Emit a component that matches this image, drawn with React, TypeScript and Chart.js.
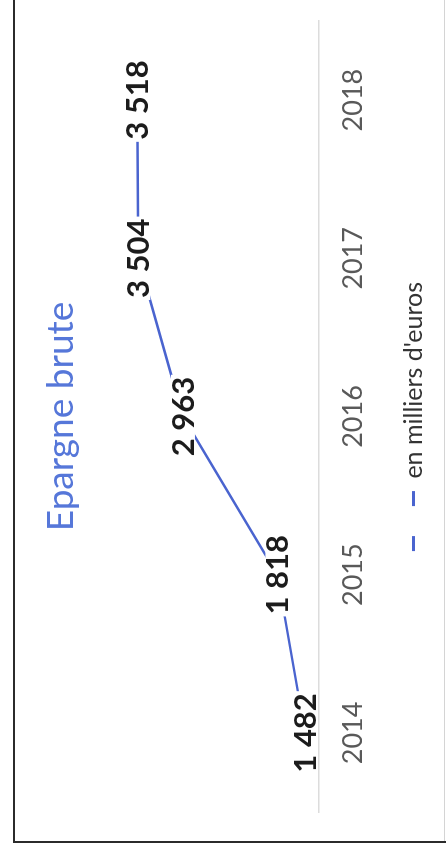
import React, { useEffect, useRef } from 'react';
import { Chart, registerables } from 'chart.js';

Chart.register(...registerables);

const chartTitle = 'Epargne brute';
const seriesName = "en milliers d'euros";
const categories = ['2014', '2015', '2016', '2017', '2018'];
const values = [1482, 1818, 2963, 3504, 3518];
const yMin = 1320;
const yMax = 4000;

const FONT = 'Lato';
const LINE_COLOR = '#4a64cf';

const fmt = (v: number) => String(v).replace(/\B(?=(\d{3})+(?!\d))/g, ' ');

const dataLabelPlugin = {
  id: 'dataLabelsInline',
  afterDatasetsDraw(chart: any) {
    const ctx = chart.ctx as CanvasRenderingContext2D;
    const meta = chart.getDatasetMeta(0);
    ctx.save();
    ctx.font = `bold 31px ${FONT}`;
    ctx.textAlign = 'center';
    ctx.textBaseline = 'middle';
    meta.data.forEach((pt: any, i: number) => {
      const txt = fmt(values[i]);
      const w = ctx.measureText(txt).width;
      ctx.fillStyle = '#ffffff';
      ctx.fillRect(pt.x - w / 2 - 2, pt.y - 12, w + 4, 24);
      ctx.fillStyle = '#1c1c1c';
      ctx.fillText(txt, pt.x, pt.y + 1);
    });
    ctx.restore();
  },
};

export default function App() {
  const canvasRef = useRef<HTMLCanvasElement | null>(null);

  useEffect(() => {
    if (!canvasRef.current) return;
    const chart = new Chart(canvasRef.current, {
      type: 'line',
      data: {
        labels: categories,
        datasets: [
          {
            label: seriesName,
            data: values,
            borderColor: LINE_COLOR,
            backgroundColor: LINE_COLOR,
            borderWidth: 2.5,
            pointRadius: 0,
            tension: 0,
          },
        ],
      },
      options: {
        responsive: false,
        animation: false,
        devicePixelRatio: 1,
        layout: { padding: { left: 42, right: 21, top: 0, bottom: 0 } },
        plugins: {
          title: {
            display: true,
            text: chartTitle,
            color: '#5677d9',
            font: { family: FONT, size: 37, weight: 'normal' },
            padding: { top: 39, bottom: 14 },
          },
          legend: {
            position: 'bottom',
            labels: {
              usePointStyle: true,
              pointStyle: 'line',
              pointStyleWidth: 60,
              color: '#333333',
              font: { family: FONT, size: 25 },
              padding: 10,
              generateLabels: () => [
                {
                  text: seriesName,
                  fillStyle: LINE_COLOR,
                  strokeStyle: LINE_COLOR,
                  lineWidth: 3,
                  lineDash: [15, 30],
                  pointStyle: 'line',
                  hidden: false,
                  datasetIndex: 0,
                  fontColor: '#333333',
                } as any,
              ],
            },
          },
          tooltip: { enabled: false },
        },
        scales: {
          x: {
            offset: true,
            grid: { display: false, drawTicks: false, offset: true },
            border: { display: true, color: '#dcdcdc', width: 1.5 },
            ticks: {
              color: '#595959',
              font: { family: FONT, size: 27 },
              padding: 19,
            },
            afterFit: (scale: any) => {
              scale.height = 72.5;
            },
          },
          y: {
            display: false,
            min: yMin,
            max: yMax,
          },
        },
      },
      plugins: [dataLabelPlugin],
    });
    return () => chart.destroy();
  }, []);

  return (
    <div
      style={{
        position: 'fixed',
        left: 0,
        top: 0,
        width: 446,
        height: 854,
        overflow: 'hidden',
        background: '#ffffff',
      }}
    >
      <div
        style={{
          position: 'absolute',
          left: 0,
          top: 854,
          width: 900,
          height: 500,
          transform: 'rotate(-90deg)',
          transformOrigin: '0 0',
        }}
      >
        <div
          style={{
            position: 'absolute',
            left: 11,
            top: 13,
            width: 950,
            height: 500,
            borderLeft: '2px solid #2b2b2b',
            borderTop: '2px solid #2b2b2b',
          }}
        />
        <div
          style={{
            position: 'absolute',
            left: 13,
            top: 444,
            width: 950,
            height: 0,
            borderTop: '1px solid #d4d4d4',
          }}
        />
        <canvas
          ref={canvasRef}
          width={854}
          height={436}
          style={{ position: 'absolute', left: 0, top: 0, width: 854, height: 436 }}
        />
      </div>
    </div>
  );
}
